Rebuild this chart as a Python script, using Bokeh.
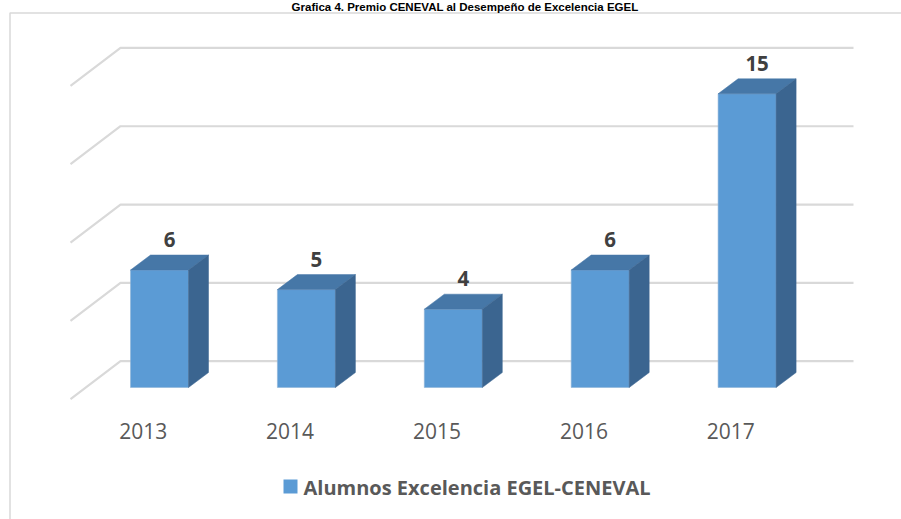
from bokeh.plotting import figure
from bokeh.models import Range1d
from bokeh.core.properties import value
from bokeh.embed import file_html
from bokeh.resources import INLINE

# ---- data ----
years = ["2013", "2014", "2015", "2016", "2017"]
alumnos = [6, 5, 4, 6, 15]
grid_values = [0, 4, 8, 12, 16]
title_text = "Grafica 4. Premio CENEVAL al Desempeño de Excelencia EGEL"
series_name = "Alumnos Excelencia EGEL-CENEVAL"

# ---- layout / scale (pixel geometry of the 3D projection) ----
W, H = 901, 519
X0, XS = 159.0, 146.9      # pixel of category 0, pixels per category
Y0, YS = 387.0, 19.58      # pixel of value 0 (bar front), pixels per unit


def px2x(px):
    return (px - X0) / XS


def px2y(py):
    return (Y0 - py) / YS


hw = 29.0 / XS          # half width of bar front
ddx = 20.0 / XS         # depth offset of bars
ddy = 15.0 / YS
floor_front = (Y0 - 398.7) / YS
floor_back = (Y0 - 360.7) / YS

FRONT = "#5B9BD5"
TOP = "#4677A7"
SIDE = "#3B6590"
GRID = "#D9D9D9"

p = figure(width=W, height=H, output_backend="svg", toolbar_location=None,
           x_range=Range1d(px2x(0), px2x(W)),
           y_range=Range1d(px2y(H), px2y(0)),
           min_border=0, outline_line_color=None)
p.axis.visible = False
p.grid.visible = False
p.background_fill_color = "white"
p.border_fill_color = "white"

# outer border (left and top)
p.line([px2x(9.5), px2x(9.5), px2x(W + 20)], [px2y(H + 20), px2y(12.5), px2y(12.5)],
       line_color=GRID, line_width=1.5)

# title
p.text([px2x(464.5)], [px2y(0.5)], text=[title_text], text_align="center",
       text_baseline="top", text_font=value("Liberation Sans"),
       text_font_style="bold", text_font_size="11.5px", text_color="black")

# back-wall gridlines with side-wall diagonal
gx = [px2x(70), px2x(120), px2x(853)]
for g in grid_values:
    p.line(gx, [g + floor_front, g + floor_back, g + floor_back],
           line_color=GRID, line_width=2.2)

# bars
xs_i = list(range(len(years)))
p.quad(left=[i - hw for i in xs_i], right=[i + hw for i in xs_i],
       bottom=[0] * len(xs_i), top=alumnos, fill_color=FRONT,
       line_color="#8FB3D6", line_width=0.6)
tops_x, tops_y, side_x, side_y = [], [], [], []
for i, v in zip(xs_i, alumnos):
    tops_x.append([i - hw, i + hw, i + hw + ddx, i - hw + ddx])
    tops_y.append([v, v, v + ddy, v + ddy])
    side_x.append([i + hw, i + hw + ddx, i + hw + ddx, i + hw])
    side_y.append([0, ddy, v + ddy, v])
p.patches(tops_x, tops_y, fill_color=TOP, line_color=TOP, line_width=0.5)
p.patches(side_x, side_y, fill_color=SIDE, line_color=SIDE, line_width=0.5)

# value labels
p.text([i + ddx / 2 for i in xs_i], [v + ddy + 15.5 / YS for v in alumnos],
       text=[str(v) for v in alumnos], text_align="center", text_baseline="middle",
       text_font=value("Open Sans"), text_font_style="bold", text_font_size="20.5px",
       text_color="#404040")

# category labels
p.text([i - 16.3 / XS for i in xs_i], [px2y(430)] * len(xs_i), text=years,
       text_align="center", text_baseline="middle", text_font=value("Open Sans"),
       text_font_size="21px", text_color="#595959")

# legend
p.rect([px2x(290)], [px2y(486)], width=14 / XS, height=14 / YS,
       fill_color=FRONT, line_color=None)
p.text([px2x(303)], [px2y(487)], text=[series_name], text_align="left",
       text_baseline="middle", text_font=value("Open Sans"), text_font_style="bold",
       text_font_size="20px", text_color="#595959")

open("out.html", "w").write(file_html(p, INLINE))
